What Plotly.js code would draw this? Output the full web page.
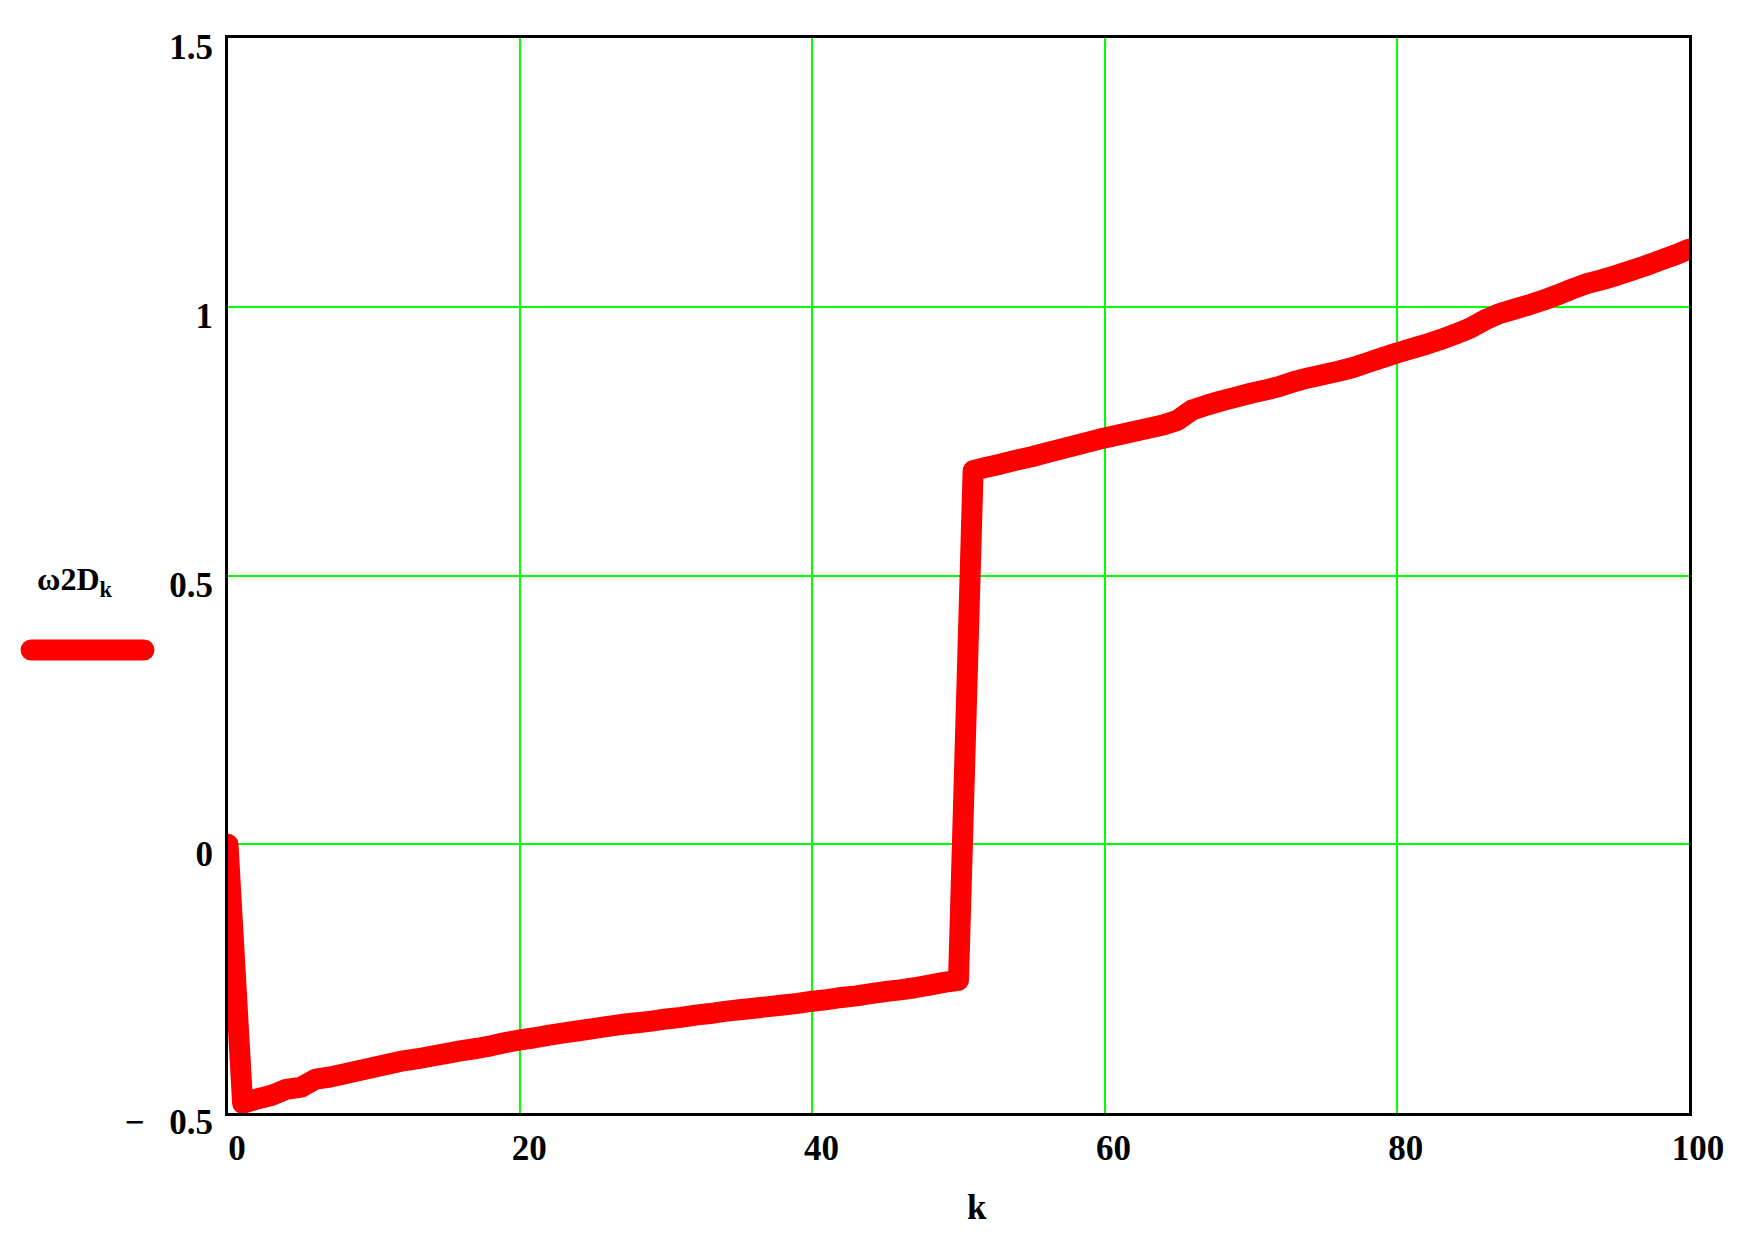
<!DOCTYPE html>
<html>
<head>
<meta charset="utf-8">
<script src="https://cdn.plot.ly/plotly-3.0.1.min.js"></script>
<style>
  html, body { margin: 0; padding: 0; background: #fff; }
  #chart { width: 1738px; height: 1241px; }
  /* Mathcad draws its thick traces with rounded ends and corners */
  .scatterlayer .js-line { stroke-linejoin: round; stroke-linecap: round; }
  .shapelayer path { stroke-linecap: round; }
</style>
</head>
<body>
<div id="chart"></div>
<script>
// ω2D_k sampled at k = 0..100
const omega2D = [
  0.000, -0.482, -0.474, -0.467, -0.456, -0.452, -0.437, -0.433, -0.427, -0.421,
  -0.415, -0.409, -0.403, -0.399, -0.394, -0.389, -0.384, -0.380, -0.375, -0.369,
  -0.364, -0.360, -0.355, -0.351, -0.347, -0.343, -0.339, -0.335, -0.332, -0.329,
  -0.325, -0.322, -0.318, -0.315, -0.311, -0.308, -0.305, -0.302, -0.299, -0.296,
  -0.292, -0.289, -0.285, -0.282, -0.278, -0.274, -0.271, -0.267, -0.262, -0.257,
  -0.253, 0.695, 0.702, 0.708, 0.715, 0.721, 0.728, 0.735, 0.742, 0.749,
  0.756, 0.762, 0.768, 0.774, 0.780, 0.789, 0.808, 0.817, 0.825, 0.832,
  0.839, 0.845, 0.852, 0.861, 0.868, 0.874, 0.880, 0.887, 0.896, 0.905,
  0.914, 0.922, 0.930, 0.939, 0.949, 0.960, 0.975, 0.987, 0.995, 1.003,
  1.012, 1.022, 1.033, 1.043, 1.050, 1.058, 1.067, 1.076, 1.086, 1.096,
  1.107
];
const k = omega2D.map((_, i) => i);

// axis ticks
const xTicks = [0, 20, 40, 60, 80, 100];
const yTicks = [-0.5, 0, 0.5, 1, 1.5];
const yTickText = ['\u2212\u2002\u20090.5', '0', '0.5', '1', '1.5'];

const tickFont = {family: 'Liberation Serif, Times New Roman, serif', size: 35, color: '#000', weight: 'bold'};

const trace = {
  x: k,
  y: omega2D,
  type: 'scatter',
  mode: 'lines',
  line: {color: '#ff0000', width: 21, simplify: false},
  hoverinfo: 'x+y'
};

const layout = {
  width: 1738,
  height: 1241,
  margin: {l: 228, r: 49, t: 38, b: 128, pad: 0},
  paper_bgcolor: '#ffffff',
  plot_bgcolor: '#ffffff',
  showlegend: false,
  xaxis: {
    range: [0, 100],
    tickvals: xTicks,
    ticktext: xTicks.map(String),
    showgrid: true,
    gridcolor: '#00ff00',
    gridwidth: 2,
    zeroline: false,
    showline: true,
    mirror: true,
    linecolor: '#000',
    linewidth: 3,
    ticks: '',
    tickfont: tickFont,
    ticklabelshift: 9,
    ticklabelstandoff: 2,
    fixedrange: true
  },
  yaxis: {
    range: [-0.5, 1.5],
    tickvals: yTicks,
    ticktext: yTickText,
    showgrid: true,
    gridcolor: '#00ff00',
    gridwidth: 2,
    zeroline: false,
    showline: true,
    mirror: true,
    linecolor: '#000',
    linewidth: 3,
    ticks: '',
    tickfont: tickFont,
    ticklabelshift: 9,
    ticklabelstandoff: 5,
    fixedrange: true
  },
  annotations: [
    {
      // x axis label
      text: 'k',
      xref: 'paper', yref: 'paper',
      x: 0.5127, y: -0.088,
      xanchor: 'center', yanchor: 'middle',
      showarrow: false,
      font: {family: 'Liberation Serif, serif', size: 35, color: '#000', weight: 'bold'}
    },
    {
      // trace name, Mathcad style, left of the axis
      text: '\u03c92D<sub>k</sub>',
      xref: 'paper', yref: 'paper',
      x: -0.1320, y: 0.494,
      xanchor: 'left', yanchor: 'middle',
      showarrow: false,
      font: {family: 'Liberation Serif, serif', size: 32, color: '#000', weight: 'bold'}
    }
  ],
  shapes: [
    {
      // trace swatch under the name
      type: 'line',
      xref: 'paper', yref: 'paper',
      x0: -0.1348, x1: -0.0575,
      y0: 0.4307, y1: 0.4307,
      line: {color: '#ff0000', width: 21}
    }
  ]
};

Plotly.newPlot('chart', [trace], layout, {displayModeBar: false, staticPlot: true});
</script>
</body>
</html>
